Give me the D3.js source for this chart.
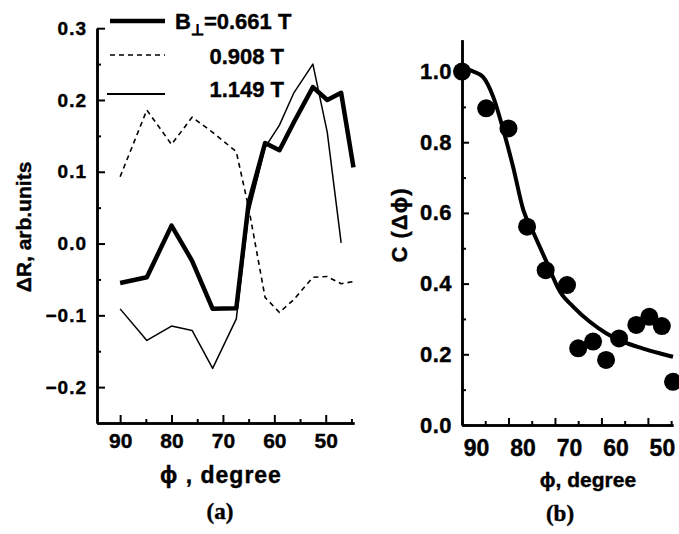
<!DOCTYPE html>
<html>
<head>
<meta charset="utf-8">
<script src="https://cdn.jsdelivr.net/npm/d3@7"></script>
<style>
  body { margin: 0; background: #fff; }
  svg { display: block; }
  text { font-family: "Liberation Sans", Arial, sans-serif; font-weight: bold; fill: #000; stroke: #000; stroke-width: 0.4; }
  .serif { font-family: "Liberation Serif", "Times New Roman", serif; }
</style>
</head>
<body>
<svg id="chart" width="679" height="534"></svg>
<script>
// angle of the field, shared by both panels
const phi = [90, 84.8, 80, 76, 72, 67.4, 65, 61.8, 59, 56.2, 52.5, 49.7, 47, 44.6]

// panel (a): delta R for three perpendicular fields
const dR0661 = [-0.055, -0.047, 0.025, -0.024, -0.091, -0.09, 0.056, 0.14, 0.13, 0.169, 0.218, 0.2, 0.21, 0.106]
const dR0908 = [0.093, 0.186, 0.138, 0.176, 0.155, 0.128, 0.05, -0.075, -0.096, -0.078, -0.047, -0.046, -0.056, -0.053]
const dR1149 = [-0.091, -0.135, -0.115, -0.121, -0.174, -0.105, 0.042, 0.134, 0.165, 0.21, 0.25, 0.155, 0.001, null]

const legendLabels = ['0.661 T', '0.908 T', '1.149 T']

// panel (b): measured C(delta phi) and the fitted curve
const cMeasured = [1.0, 0.896, 0.839, 0.561, 0.438, 0.396, 0.217, 0.236, 0.184, 0.245, 0.283, 0.306, 0.28, 0.122]
const fitPhi = [90, 88.7, 87.6, 85.5, 83.3, 81.1, 79, 76.8, 74.6, 72, 68.9, 66.1, 62.5, 58.9, 55.4, 51.2, 47.5, 44.6]
const fitC = [1.0, 1.005, 1.0, 0.985, 0.929, 0.834, 0.73, 0.608, 0.543, 0.467, 0.377, 0.335, 0.292, 0.259, 0.236, 0.217, 0.203, 0.193]

const xTicks = [90, 80, 70, 60, 50]
const xMinor = [85, 75, 65, 55, 45]
const aTicks = [0.3, 0.2, 0.1, 0.0, -0.1, -0.2]
const aMinor = [0.25, 0.15, 0.05, -0.05, -0.15, -0.25]
const bTicks = [0.0, 0.2, 0.4, 0.6, 0.8, 1.0]
const bMinor = [0.1, 0.3, 0.5, 0.7, 0.9]

const svg = d3.select('#chart')

function styleAxis (g, width) {
  g.select('.domain').attr('stroke', '#000').attr('stroke-width', width)
  g.selectAll('.tick line').attr('stroke', '#000').attr('stroke-width', 2)
}

/* ---------- panel (a) ---------- */
const xa = d3.scaleLinear().domain([94.5, 44.5]).range([97, 354])
const ya = d3.scaleLinear().domain([-0.25, 0.3]).range([423, 28.2])

const pa = svg.append('g').attr('class', 'panel-a')

pa.append('g')
  .attr('transform', 'translate(0,423)')
  .call(d3.axisBottom(xa).tickValues(xMinor).tickSize(-4).tickSizeOuter(0).tickFormat(''))
  .call(g => styleAxis(g, 2.5))
pa.append('g')
  .attr('transform', 'translate(0,423)')
  .call(d3.axisBottom(xa).tickValues(xTicks).tickSize(-8).tickSizeOuter(0).tickFormat(d3.format('d')))
  .call(g => styleAxis(g, 2.5))
  .call(g => g.selectAll('text').attr('font-size', 21).attr('dy', '0.71em').attr('y', 10))

pa.append('g')
  .attr('transform', 'translate(97,0)')
  .call(d3.axisLeft(ya).tickValues(aMinor).tickSize(-4).tickSizeOuter(0).tickFormat(''))
  .call(g => styleAxis(g, 2.5))
pa.append('g')
  .attr('transform', 'translate(97,0)')
  .call(d3.axisLeft(ya).tickValues(aTicks).tickSize(-8).tickSizeOuter(0).tickPadding(10).tickFormat(d3.format('.1f')))
  .call(g => styleAxis(g, 2.5))
  .call(g => g.selectAll('text').attr('font-size', 19).attr('letter-spacing', 1))

const lineA = d3.line()
  .defined(d => d != null)
  .x((d, i) => xa(phi[i]))
  .y(d => ya(d))

const seriesA = [
  { values: dR0661, width: 4.5, dash: null },
  { values: dR0908, width: 1.6, dash: '5,4' },
  { values: dR1149, width: 1.5, dash: null }
]

seriesA.forEach(s => {
  pa.append('path')
    .datum(s.values)
    .attr('fill', 'none')
    .attr('stroke', '#000')
    .attr('stroke-width', s.width)
    .attr('stroke-dasharray', s.dash)
    .attr('stroke-linejoin', 'round')
    .attr('d', lineA)
})

// legend
const legendRows = [21, 55, 94]
seriesA.forEach((s, i) => {
  pa.append('line')
    .attr('x1', i === 2 ? 107 : 110).attr('x2', 165)
    .attr('y1', legendRows[i]).attr('y2', legendRows[i])
    .attr('stroke', '#000')
    .attr('stroke-width', i === 2 ? 2 : s.width)
    .attr('stroke-dasharray', s.dash)
})
const lg0 = pa.append('text').attr('x', 175).attr('y', 29).attr('font-size', 22)
lg0.append('tspan').text('B')
lg0.append('tspan').attr('font-size', 15).attr('dy', 6).text('⊥')
lg0.append('tspan').attr('dy', -6).text('=' + legendLabels[0])
pa.append('text').attr('x', 284).attr('y', 64).attr('text-anchor', 'end').attr('font-size', 22).text(legendLabels[1])
pa.append('text').attr('x', 284).attr('y', 97).attr('text-anchor', 'end').attr('font-size', 22).text(legendLabels[2])

pa.append('text')
  .attr('transform', 'translate(31,227) rotate(-90)')
  .attr('text-anchor', 'middle')
  .attr('font-size', 21)
  .text('ΔR, arb.units')

pa.append('text')
  .attr('x', 221).attr('y', 483)
  .attr('text-anchor', 'middle')
  .attr('font-size', 23)
  .attr('letter-spacing', 1)
  .text('ϕ , degree')

pa.append('text')
  .attr('class', 'serif')
  .attr('x', 220).attr('y', 519)
  .attr('text-anchor', 'middle')
  .attr('font-size', 23)
  .text('(a)')

/* ---------- panel (b) ---------- */
const xb = d3.scaleLinear().domain([90, 44.6]).range([462, 673])
const yb = d3.scaleLinear().domain([0, 1.09]).range([425, 39.7])

const pb = svg.append('g').attr('class', 'panel-b')

pb.append('g')
  .attr('transform', 'translate(0,425)')
  .call(d3.axisBottom(xb).tickValues(xMinor).tickSize(-4).tickSizeOuter(0).tickFormat(''))
  .call(g => styleAxis(g, 2.5))
pb.append('g')
  .attr('transform', 'translate(0,425)')
  .call(d3.axisBottom(xb).tickValues(xTicks).tickSize(-7).tickSizeOuter(0).tickFormat(d3.format('d')))
  .call(g => styleAxis(g, 2.5))
  .call(g => g.selectAll('text').attr('font-size', 23).attr('dy', '0.71em').attr('y', 15).attr('dx', 14))

pb.append('g')
  .attr('transform', 'translate(462,0)')
  .call(d3.axisLeft(yb).tickValues(bMinor).tickSize(-4).tickSizeOuter(0).tickFormat(''))
  .call(g => styleAxis(g, 2.5))
pb.append('g')
  .attr('transform', 'translate(462,0)')
  .call(d3.axisLeft(yb).tickValues(bTicks).tickSize(-7).tickSizeOuter(0).tickPadding(10).tickFormat(d3.format('.1f')))
  .call(g => styleAxis(g, 2.5))
  .call(g => g.selectAll('text').attr('font-size', 22).attr('letter-spacing', 0.5))

pb.append('path')
  .datum(fitC)
  .attr('fill', 'none')
  .attr('stroke', '#000')
  .attr('stroke-width', 4)
  .attr('d', d3.line()
    .x((d, i) => xb(fitPhi[i]))
    .y(d => yb(d))
    .curve(d3.curveMonotoneX))

pb.selectAll('circle.meas')
  .data(cMeasured)
  .join('circle')
  .attr('class', 'meas')
  .attr('cx', (d, i) => xb(phi[i]))
  .attr('cy', d => yb(d))
  .attr('r', 9)
  .attr('fill', '#000')

pb.append('text')
  .attr('transform', 'translate(407,225) rotate(-90)')
  .attr('text-anchor', 'middle')
  .attr('font-size', 22)
  .attr('letter-spacing', 1)
  .text('C (Δϕ)')

pb.append('text')
  .attr('x', 588).attr('y', 487)
  .attr('text-anchor', 'middle')
  .attr('font-size', 21)
  .text('ϕ, degree')

pb.append('text')
  .attr('class', 'serif')
  .attr('x', 560).attr('y', 521)
  .attr('text-anchor', 'middle')
  .attr('font-size', 23)
  .text('(b)')
</script>
</body>
</html>
